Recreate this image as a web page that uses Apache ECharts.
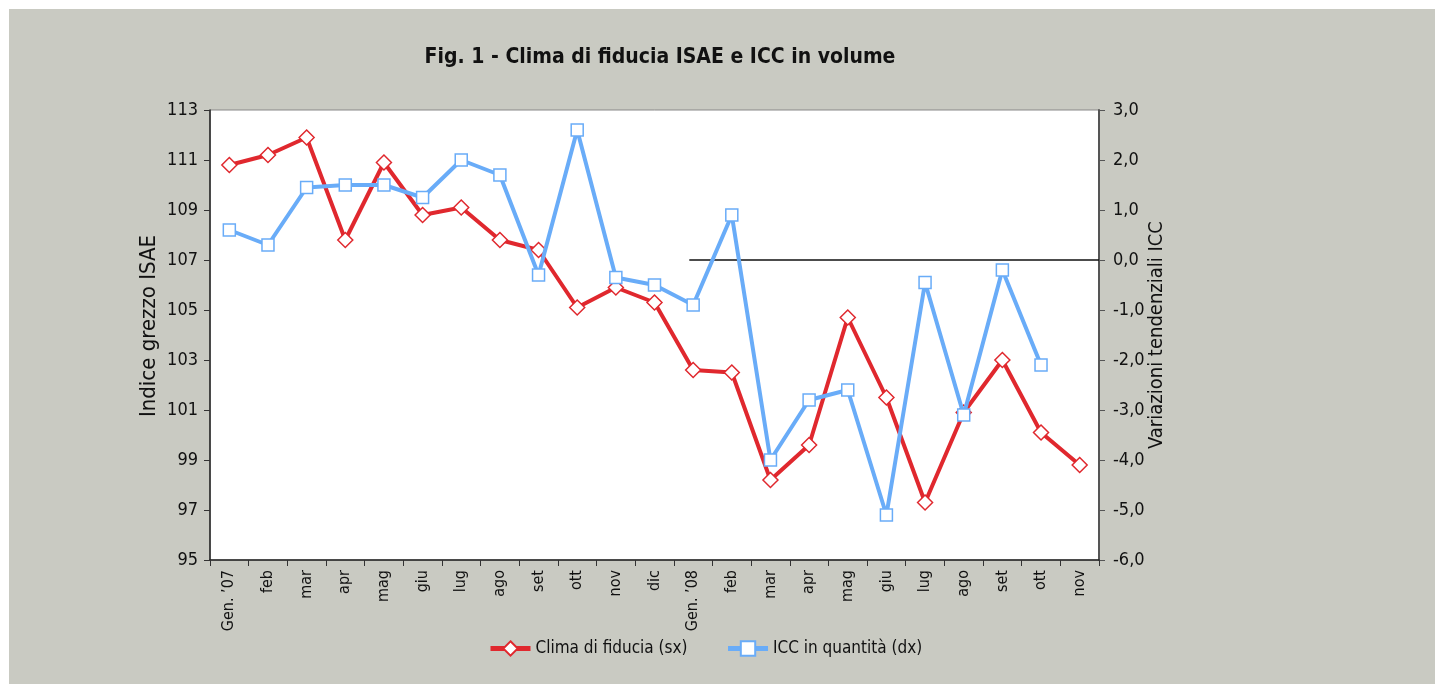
<!DOCTYPE html>
<html>
<head>
<meta charset="utf-8">
<script src="https://cdn.jsdelivr.net/npm/echarts@6/dist/echarts.min.js"></script>
<style>
  html, body { margin: 0; padding: 0; background: #fff; }
  #chart { position: absolute; left: 9px; top: 9px; width: 1426px; height: 675px; }
</style>
</head>
<body>
<div id="chart"></div>
<script>
// mesi (asse x)
var mesi = ['Gen. \u201907','feb','mar','apr','mag','giu','lug','ago','set','ott','nov','dic',
            'Gen. \u201908','feb','mar','apr','mag','giu','lug','ago','set','ott','nov'];
// clima di fiducia ISAE (asse sx)
var climaFiducia = [110.8,111.2,111.9,107.8,110.9,108.8,109.1,107.8,107.4,105.1,105.9,105.3,
                    102.6,102.5,98.2,99.6,104.7,101.5,97.3,100.9,103.0,100.1,98.8];
// ICC in quantità, variazioni tendenziali (asse dx)
var iccQuantita = [0.6,0.3,1.45,1.5,1.5,1.25,2.0,1.7,-0.3,2.6,-0.35,-0.5,
                   -0.9,0.9,-4.0,-2.8,-2.6,-5.1,-0.45,-3.1,-0.2,-2.1,null];
// linea dello zero (dal 2008)
var lineaZero = [[12.4, 0], [23, 0]];

var font = "'Liberation Sans Narrow','DejaVu Sans Condensed','Roboto Condensed',sans-serif";
var rosso = '#e0282e';
var blu = '#69acf8';

var chart = echarts.init(document.getElementById('chart'));

var option = {
    backgroundColor: '#c9cac2',
    textStyle: { fontFamily: font, color: '#111' },
    title: {
        text: 'Fig. 1 - Clima di fiducia ISAE e ICC in volume',
        left: 646,
        top: 33,
        textAlign: 'center',
        textStyle: { fontFamily: font, fontSize: 21, fontWeight: 'bold', color: '#111' }
    },
    legend: {
        data: ['Clima di fiducia (sx)', 'ICC in quantità (dx)'],
        left: 474,
        top: 626,
        itemWidth: 40,
        itemHeight: 18,
        itemGap: 38,
        lineStyle: { width: 5 },
        textStyle: { fontFamily: font, fontSize: 17, color: '#111' }
    },
    grid: {
        left: 201, top: 101, right: 336, bottom: 124,
        show: true, backgroundColor: '#fff', borderColor: '#888', borderWidth: 1
    },
    xAxis: [{
        type: 'category',
        data: mesi,
        boundaryGap: true,
        axisLine: { onZero: false, lineStyle: { color: '#222', width: 1.5 } },
        axisTick: { show: true, interval: 0, length: 6, lineStyle: { color: '#333' } },
        axisLabel: { interval: 0, rotate: 90, fontFamily: font, fontSize: 16, color: '#111', margin: 10 },
        splitLine: { show: false }
    }, {
        type: 'value', min: 0, max: 23, show: false
    }],
    yAxis: [{
        type: 'value',
        min: 95, max: 113, interval: 2,
        position: 'left',
        name: 'Indice grezzo ISAE',
        nameLocation: 'middle',
        nameRotate: 90,
        nameGap: 50,
        nameMoveOverlap: false,
        nameTextStyle: { fontFamily: font, fontSize: 22, color: '#111', padding: [0, 0, 0, 18] },
        axisLine: { show: true, lineStyle: { color: '#222', width: 1.5 } },
        axisTick: { show: true, length: 6, lineStyle: { color: '#333' } },
        axisLabel: { fontFamily: font, fontSize: 18, color: '#111', margin: 12 },
        splitLine: { show: false }
    }, {
        type: 'value',
        min: -6, max: 3, interval: 1,
        position: 'right',
        name: 'Variazioni tendenziali ICC',
        nameLocation: 'middle',
        nameRotate: 90,
        nameGap: 48,
        nameMoveOverlap: false,
        nameTextStyle: { fontFamily: font, fontSize: 20, color: '#111' },
        axisLine: { show: true, lineStyle: { color: '#555', width: 2 } },
        axisTick: { show: true, length: 6, lineStyle: { color: '#555' } },
        axisLabel: {
            fontFamily: font, fontSize: 18, color: '#111', margin: 14,
            formatter: function (v) { return v.toFixed(1).replace('.', ','); }
        },
        splitLine: { show: false }
    }],
    series: [{
        name: 'zero',
        type: 'line',
        xAxisIndex: 1,
        yAxisIndex: 1,
        data: lineaZero,
        symbol: 'none',
        silent: true,
        lineStyle: { color: '#111', width: 1.3 },
        z: 1
    }, {
        name: 'Clima di fiducia (sx)',
        type: 'line',
        yAxisIndex: 0,
        data: climaFiducia,
        symbol: 'diamond',
        symbolSize: 15,
        showAllSymbol: true,
        lineStyle: { color: rosso, width: 4 },
        itemStyle: { color: '#fff', borderColor: rosso, borderWidth: 1.5 },
        z: 2
    }, {
        name: 'ICC in quantità (dx)',
        type: 'line',
        yAxisIndex: 1,
        data: iccQuantita,
        symbol: 'rect',
        symbolSize: 12,
        showAllSymbol: true,
        connectNulls: false,
        lineStyle: { color: blu, width: 4 },
        itemStyle: { color: '#fff', borderColor: blu, borderWidth: 1.5 },
        z: 3
    }]
};

chart.setOption(option);
</script>
</body>
</html>
